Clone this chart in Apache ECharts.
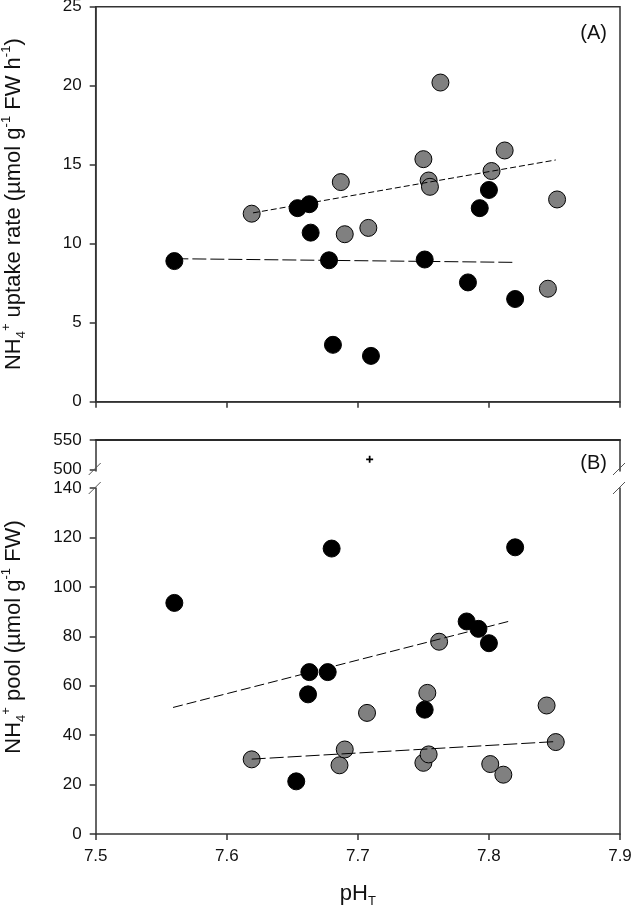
<!DOCTYPE html>
<html>
<head>
<meta charset="utf-8">
<script src="https://cdn.jsdelivr.net/npm/echarts@6/dist/echarts.min.js"></script>
<style>html,body{margin:0;padding:0;background:#fff}#c{width:631px;height:912px}</style>
</head>
<body>
<div id="c"></div>
<script>
// ---- data ----
// Panel A: NH4+ uptake rate
const xGrayA  = [7.619, 7.687, 7.690, 7.708, 7.750, 7.754, 7.755, 7.763, 7.802, 7.812, 7.845, 7.852];
const yGrayA  = [11.9, 13.9, 10.6, 11.0, 15.35, 14.0, 13.6, 20.2, 14.6, 15.9, 7.15, 12.8];
const xBlackA = [7.560, 7.654, 7.663, 7.664, 7.678, 7.681, 7.710, 7.751, 7.784, 7.793, 7.800, 7.820];
const yBlackA = [8.9, 12.25, 12.5, 10.7, 8.95, 3.6, 2.9, 9.0, 7.55, 12.25, 13.4, 6.5];
const fitGrayA  = [[7.620, 11.95], [7.851, 15.3]];
const fitBlackA = [[7.560, 9.05], [7.818, 8.82]];
// Panel B: NH4+ pool
const xGrayB  = [7.619, 7.686, 7.690, 7.707, 7.750, 7.754, 7.753, 7.762, 7.801, 7.811, 7.844, 7.851];
const yGrayB  = [30.2, 27.8, 34.2, 49.0, 28.8, 32.2, 57.1, 77.8, 28.3, 24.0, 52.0, 37.2];
const xBlackB = [7.560, 7.680, 7.820, 7.783, 7.792, 7.800, 7.663, 7.677, 7.662, 7.751, 7.653];
const yBlackB = [93.5, 115.5, 116, 86, 83, 77.2, 65.5, 65.5, 56.5, 50.3, 21.3];
const outlierB = [[7.709, 517]];
const fitBlackB = [[7.559, 51.2], [7.817, 86.3]];
const fitGrayB  = [[7.619, 30.3], [7.851, 37.4]];
// ticks
const upperTicksB = [500, 550];

const zip = (xs, ys) => xs.map((x, i) => [x, ys[i]]);

// ---- layout ----
const L = 95.7, R = 11;
const A_TOP = 6.7, A_BOT = 401.7;
const BU_TOP = 440, BU_BOT = 471;
const BL_TOP = 488, BL_BOT = 834;
const FONT = 'Liberation Sans, Arial, sans-serif';
const AX = '#333';
const TXT = '#111';

const nameRich = {
  n:   {fontSize: 22, fontFamily: FONT, color: TXT, lineHeight: 28, verticalAlign: 'middle'},
  sup: {fontSize: 13, fontFamily: FONT, color: TXT, lineHeight: 13, verticalAlign: 'top'},
  sub: {fontSize: 13, fontFamily: FONT, color: TXT, lineHeight: 13, verticalAlign: 'bottom'}
};

const axLine = () => ({show: true, onZero: false, lineStyle: {color: AX, width: 1.5}});
const tick = () => ({show: true, inside: false, length: 6, lineStyle: {color: AX, width: 1.5}});
const lbl = () => ({color: TXT, fontSize: 17, fontFamily: FONT, margin: 14});

const chart = echarts.init(document.getElementById('c'), null, {renderer: 'canvas'});

const gridBase = {left: L, right: R, containLabel: false, outerBoundsMode: 'none'};
const grids = [
  Object.assign({}, gridBase, {top: A_TOP, height: A_BOT - A_TOP, show: true, borderColor: AX, borderWidth: 1.5}),
  Object.assign({}, gridBase, {top: BU_TOP, height: BU_BOT - BU_TOP}),
  Object.assign({}, gridBase, {top: BL_TOP, height: BL_BOT - BL_TOP}),
  Object.assign({}, gridBase, {top: BU_TOP, height: BL_BOT - BU_TOP})
];

const xBase = () => ({type: 'value', min: 7.5, max: 7.9, interval: 0.1, splitLine: {show: false}});

const xAxes = [
  Object.assign(xBase(), {gridIndex: 0, axisLine: axLine(), axisTick: tick(), axisLabel: {show: false}}),
  Object.assign(xBase(), {gridIndex: 1, position: 'top',
    axisLine: {show: true, onZero: false, lineStyle: {color: '#2a2a2a', width: 2}},
    axisTick: {show: false}, axisLabel: {show: false}}),
  Object.assign(xBase(), {gridIndex: 2, axisLine: axLine(), axisTick: tick(),
    axisLabel: Object.assign(lbl(), {formatter: v => v.toFixed(1)}),
    name: '{n|pH}{sub|T}', nameLocation: 'middle', nameGap: 46,
    nameTextStyle: {rich: nameRich}}),
  Object.assign(xBase(), {gridIndex: 3, show: false})
];

const yAxes = [
  {type: 'value', gridIndex: 0, min: 0, max: 25, interval: 5, splitLine: {show: false},
   axisLine: axLine(), axisTick: tick(), axisLabel: lbl(),
   name: '{n|NH}{sub|4}{sup|+}{n| uptake rate (µmol g}{sup|-1}{n| FW h}{sup|-1}{n|)}',
   nameLocation: 'middle', nameGap: 68, nameRotate: 90, nameTextStyle: {rich: nameRich}},
  {type: 'value', gridIndex: 1, min: 550 - (BU_BOT - BU_TOP) / (29.3 / 50), max: 550, splitLine: {show: false},
   axisLine: axLine(),
   axisTick: Object.assign(tick(), {customValues: upperTicksB}),
   axisLabel: Object.assign(lbl(), {customValues: upperTicksB})},
  {type: 'value', gridIndex: 2, min: 0, max: 140, interval: 20, splitLine: {show: false},
   axisLine: axLine(), axisTick: tick(), axisLabel: lbl()},
  {type: 'value', gridIndex: 1, position: 'right', min: 0, max: 1, splitLine: {show: false},
   axisLine: axLine(), axisTick: {show: false}, axisLabel: {show: false}},
  {type: 'value', gridIndex: 2, position: 'right', min: 0, max: 1, splitLine: {show: false},
   axisLine: axLine(), axisTick: {show: false}, axisLabel: {show: false}},
  {type: 'value', gridIndex: 3, min: 0, max: 1, splitLine: {show: false},
   axisLine: {show: false}, axisTick: {show: false}, axisLabel: {show: false},
   name: '{n|NH}{sub|4}{sup|+}{n| pool (µmol g}{sup|-1}{n| FW)}',
   nameLocation: 'middle', nameGap: 68, nameRotate: 90, nameTextStyle: {rich: nameRich}}
];

const SYM = 17;
const grayStyle = {color: '#808080', borderColor: '#000', borderWidth: 1, opacity: 1};
const blackStyle = {color: '#000', borderColor: '#000', borderWidth: 1, opacity: 1};
const scatter = (xi, yi, data, style) => ({type: 'scatter', xAxisIndex: xi, yAxisIndex: yi, data,
  symbol: 'circle', symbolSize: SYM, itemStyle: style, z: 2, silent: true});
const fit = (xi, yi, data, dash) => ({type: 'line', xAxisIndex: xi, yAxisIndex: yi, data,
  symbol: 'none', lineStyle: {color: '#000', width: 1, type: dash}, z: 3, silent: true});

const series = [
  scatter(0, 0, zip(xGrayA, yGrayA), grayStyle),
  scatter(0, 0, zip(xBlackA, yBlackA), blackStyle),
  fit(0, 0, fitGrayA, [6, 3]),
  fit(0, 0, fitBlackA, [14, 4]),
  scatter(2, 2, zip(xGrayB, yGrayB), grayStyle),
  scatter(2, 2, zip(xBlackB, yBlackB), blackStyle),
  fit(2, 2, fitBlackB, [10, 4]),
  fit(2, 2, fitGrayB, [14, 4]),
  {type: 'scatter', xAxisIndex: 1, yAxisIndex: 1, data: outlierB,
   symbol: 'path://M3,0H5V3H8V5H5V8H3V5H0V3H3Z', symbolSize: 7,
   itemStyle: {color: '#000', opacity: 1}, z: 4, silent: true}
];

// axis-break slashes on left and right axis lines
const RX = 631 - R;
const slash = (x, y) => ({type: 'line', shape: {x1: x - 7, y1: y + 6, x2: x + 5, y2: y - 6},
  style: {stroke: '#555', lineWidth: 1}, z: 10, silent: true});
const BRK1 = 469, BRK2 = 488;
const graphics = [
  slash(L, BRK1), slash(L, BRK2), slash(RX, BRK1), slash(RX, BRK2),
  {type: 'text', right: 24, top: 23, style: {text: '(A)', font: '20px ' + FONT, fill: TXT}, silent: true},
  {type: 'text', right: 24, top: 453, style: {text: '(B)', font: '20px ' + FONT, fill: TXT}, silent: true}
];

chart.setOption({
  animation: false,
  backgroundColor: '#fff',
  grid: grids,
  xAxis: xAxes,
  yAxis: yAxes,
  series: series,
  graphic: graphics
});
</script>
</body>
</html>
